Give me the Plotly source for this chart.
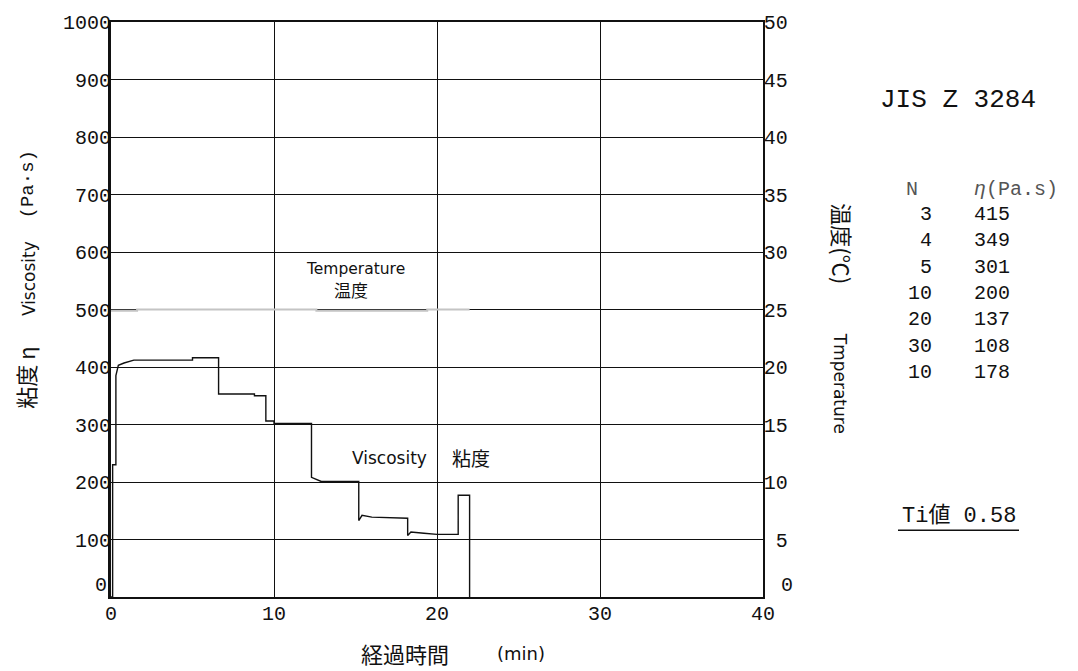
import plotly.graph_objects as go

# ---- data ----
visc_time = [0.0, 0.1, 0.1, 0.3, 0.3, 0.45, 0.8, 1.4, 5.0, 5.0, 6.6, 6.6, 8.8, 8.8, 9.5, 9.5,
             10.0, 10.0, 12.3, 12.3, 12.9, 15.2, 15.2, 15.4, 16.0, 17.5, 18.2, 18.2, 18.4,
             19.2, 20.0, 21.3, 21.3, 22.0, 22.0]
visc_value = [0, 0, 230, 230, 385, 403, 407, 412, 412, 416, 416, 353, 353, 350, 350, 306,
              306, 302, 302, 208, 201, 201, 133, 142, 139, 137, 137, 107, 113,
              111, 109, 109, 177, 177, 0]

temp_time = [0.0, 1.6, 12.6, 19.4, 22.0]
temp_value = [24.9, 25.0, 24.9, 25.0, 25.0]

x_ticks = [0, 10, 20, 30, 40]
y_ticks = list(range(100, 1001, 100))   # the "0" labels sit a little higher, drawn below
y2_ticks = list(range(5, 51, 5))
zero_label = "0"

table_n = ["3", "4", "5", "10", "20", "30", "10"]
table_eta = ["415", "349", "301", "200", "137", "108", "178"]
ti_value = "0.58"

MONO = "Liberation Mono, Noto Sans CJK JP"
SANS = "DejaVu Sans, Noto Sans CJK JP"
CJK = "Noto Sans CJK JP"
NBSP = "\u00a0"

# plot area in pixels
L, R, T, B = 111, 763, 20, 597
W, H = 1078, 671


def px(xp):
    return (xp - L) / (R - L)


def py(yp):
    return (B - yp) / (B - T)


fig = go.Figure()
fig.add_trace(go.Scatter(x=temp_time, y=temp_value, yaxis="y2", mode="lines",
                         line=dict(color="#c4c4c4", width=2, shape="hv"),
                         showlegend=False, hoverinfo="skip"))
fig.add_trace(go.Scatter(x=visc_time, y=visc_value, mode="lines",
                         line=dict(color="#111111", width=1.4),
                         showlegend=False))

ann = []


def add(x, y, text, font, ref="paper", angle=0, xa="center"):
    if ref == "paper":
        ann.append(dict(x=px(x), y=py(y), xref="paper", yref="paper", text=text,
                        textangle=angle, showarrow=False, xanchor=xa, yanchor="middle",
                        font=font))
    else:
        ann.append(dict(x=x, y=y, xref="x", yref="y", text=text, textangle=angle,
                        showarrow=False, xanchor=xa, yanchor="middle", font=font))


TICKFONT = dict(family=MONO, size=20, color="#111")

# zero labels of both value axes (raised above the x axis as in the reference)
add(109, 585, zero_label, TICKFONT, xa="right")
add(767, 585, NBSP + zero_label, TICKFONT, xa="left")

# in-plot labels
add(15.0, 570, "Temperature", dict(family=SANS, size=15.5, color="#111"), ref="data")
add(14.7, 535, "温度", dict(family=CJK, size=17, color="#111"), ref="data")
add(17.1, 242, "Viscosity", dict(family=SANS, size=17, color="#111"), ref="data")
add(22.1, 242, "粘度", dict(family=CJK, size=19, color="#111"), ref="data")

# left axis title
add(25, 377, "粘度 η", dict(family=CJK, size=22, color="#111"), angle=-90)
add(29, 278, "Viscosity", dict(family=SANS, size=17, color="#111"), angle=-90)
add(28, 183, "(Pa·s)", dict(family=MONO, size=19, color="#111"), angle=-90)
# right axis title
add(843, 242, "温度(℃)", dict(family=CJK, size=22, color="#111"), angle=90)
add(840, 382, "Tmperature", dict(family=SANS, size=17, color="#111"), angle=90)
# x axis title
add(405, 653, "経過時間", dict(family=CJK, size=22, color="#111"))
add(521, 654, "(min)", dict(family=SANS, size=18, color="#111"))

# right side notes
add(958, 98, "JIS Z 3284", dict(family=MONO, size=26, color="#111"))
add(920, 188, "N", dict(family=MONO, size=20, color="#555"), xa="right")
add(972, 188, "<i>η</i>(Pa.s)", dict(family=MONO, size=20, color="#555"), xa="left")
for i, (n, e) in enumerate(zip(table_n, table_eta)):
    yy = 213 + i * 26.5
    add(934, yy, n, dict(family=MONO, size=20, color="#111"), xa="right")
    add(972, yy, e, dict(family=MONO, size=20, color="#111"), xa="left")
add(959, 516, "Ti値 " + ti_value, dict(family=MONO, size=22, color="#111"))

shapes = [dict(type="line", xref="paper", yref="paper", x0=px(898), x1=px(1019),
               y0=py(530), y1=py(530), line=dict(color="#111", width=1.5))]

fig.update_layout(
    width=W, height=H,
    margin=dict(l=L, r=W - R, t=T, b=H - B, pad=0),
    paper_bgcolor="white", plot_bgcolor="white",
    annotations=ann, shapes=shapes, showlegend=False,
    xaxis=dict(range=[0, 40], tickvals=x_ticks, ticktext=[str(v) for v in x_ticks],
               showgrid=True, gridcolor="#111", gridwidth=1, zeroline=False,
               showline=True, linecolor="#111", linewidth=1.5, mirror=True,
               ticks="", ticklabelstandoff=-3,
               tickfont=TICKFONT, fixedrange=True),
    yaxis=dict(range=[0, 1000], tickvals=y_ticks, ticktext=[str(v) for v in y_ticks],
               showgrid=True, gridcolor="#111", gridwidth=1, zeroline=False,
               showline=True, linecolor="#111", linewidth=3,
               ticks="", ticklabelstandoff=-7,
               tickfont=TICKFONT, fixedrange=True),
    yaxis2=dict(range=[0, 50], tickvals=y2_ticks,
                ticktext=[str(v).rjust(2, NBSP) for v in y2_ticks],
                overlaying="y", side="right", showgrid=False, zeroline=False,
                showline=True, linecolor="#111", linewidth=1.5,
                ticks="inside", ticklen=4, tickcolor="#111", ticklabelstandoff=-5,
                tickfont=TICKFONT, fixedrange=True),
)

fig.write_html("out.html")
